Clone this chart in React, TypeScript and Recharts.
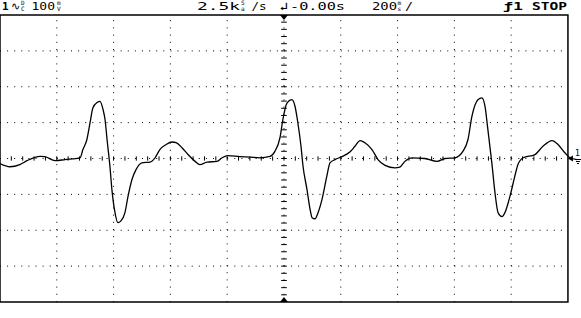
import { Line, LineChart, ReferenceArea, ReferenceDot, ReferenceLine, XAxis, YAxis } from "recharts";

// time in ms (200 ms/div, trigger at 0), trace in mV (100 mV/div)
const timeMs = [
  -1000, -965, -930, -905, -859, -842, -806, -771, -718, -708, -694, -683, -673, -658, -648, -637, -630, -623, -613,
  -606, -595, -585, -574, -560, -549, -535, -521, -500, -472, -454, -437, -415, -394, -380, -359, -338, -313, -296,
  -271, -236, -218, -197, -155, -120, -85, -49, -32, -14, -4, 11, 28, 39, 49, 60, 67, 81, 92, 99, 109, 120, 134, 151,
  162, 180, 204, 232, 250, 268, 285, 310, 331, 356, 391, 408, 426, 451, 496, 539, 567, 602, 630, 648, 662, 683, 697,
  708, 718, 732, 743, 754, 768, 778, 796, 813, 824, 842, 884, 912, 944, 965, 989, 1007, 1032,
];
const traceMv = [
  -14, -23, -17, -6, 6, 5, -6, -3, 2, 25, 53, 99, 141, 156, 159, 136, 108, 53, -21, -86, -151, -179, -174, -151, -105,
  -58, -31, -12, -10, 2, 25, 39, 46, 44, 30, 11, -8, -17, -10, -8, 2, 8, 5, 4, 2, 6, 20, 58, 108, 155, 164, 145, 99,
  34, -21, -86, -142, -165, -168, -151, -114, -49, -12, -3, 5, 18, 34, 50, 44, 25, -3, -19, -26, -24, -8, 2, 0, -8, 0,
  2, 20, 53, 118, 164, 169, 145, 81, -12, -95, -151, -162, -151, -105, -49, -17, 2, 11, 34, 50, 39, 16, 2, -3,
];

const gridTimes = [-800, -600, -400, -200, 200, 400, 600, 800];
const gridVolts = [-300, -200, -100, 100, 200, 300];
const minorTimes = Array.from({ length: 49 }, (_, i) => -960 + i * 40);
const minorVolts = Array.from({ length: 39 }, (_, i) => -380 + i * 20);

const data = timeMs.map((t, i) => ({ t, v: traceMv[i] }));

const INK = "#000";
const FONT = "'DejaVu Sans Mono', monospace";

const trigTop = ({ cx, cy }: { cx: number; cy: number }) => (
  <path d={`M${cx - 4},${cy} L${cx + 4},${cy} L${cx},${cy + 5} Z`} fill={INK} />
);
const trigBottom = ({ cx, cy }: { cx: number; cy: number }) => (
  <path d={`M${cx - 4},${cy} L${cx + 4},${cy} L${cx},${cy - 5} Z`} fill={INK} />
);
const groundMark = ({ cx, cy }: { cx: number; cy: number }) => (
  <g>
    <path d={`M${cx},${cy} L${cx + 5},${cy - 3} L${cx + 5},${cy + 3} Z`} fill={INK} />
    <text x={cx + 7} y={cy - 3} fontSize={8} fontFamily={FONT}>1</text>
    <path d={`M${cx + 7},${cy + 1} h6 M${cx + 8},${cy + 3} h4 M${cx + 9},${cy + 5} h2`} stroke={INK} strokeWidth={1} />
  </g>
);

function Stack({ x, top, bottom }: { x: number; top: string; bottom: string }) {
  return (
    <>
      <text x={x} y={5} fontSize={6}>{top}</text>
      <text x={x} y={10.5} fontSize={6}>{bottom}</text>
    </>
  );
}

export default function App() {
  return (
    <div style={{ position: "absolute", left: 0, top: 0, width: 581, height: 318, background: "#fff" }}>
      <LineChart width={581} height={318} data={data} margin={{ top: 15, right: 0, bottom: 16, left: 0 }}>
        <XAxis dataKey="t" type="number" domain={[-1000, 1046]} hide />
        <YAxis type="number" domain={[-400, 400]} hide />
        {gridTimes.map((t) => (
          <ReferenceLine key={`gx${t}`} x={t} stroke={INK} strokeDasharray="1 6.2" />
        ))}
        {gridVolts.map((v) => (
          <ReferenceLine key={`gy${v}`} segment={[{ x: -1000, y: v }, { x: 1000, y: v }]} stroke={INK} strokeDasharray="1 6.1" />
        ))}
        <ReferenceLine segment={[{ x: -1000, y: 0 }, { x: 1000, y: 0 }]} stroke={INK} strokeDasharray="1 6.1" />
        <ReferenceLine x={0} stroke={INK} strokeDasharray="1 6.2" />
        {minorTimes.map((t) => (
          <ReferenceLine key={`mx${t}`} segment={[{ x: t, y: -6 }, { x: t, y: 6 }]} stroke={INK} />
        ))}
        {minorVolts.map((v) => (
          <ReferenceLine key={`my${v}`} segment={[{ x: -10, y: v }, { x: 10, y: v }]} stroke={INK} />
        ))}
        <ReferenceArea x1={-1000} x2={1000} y1={-400} y2={400} fill="none" stroke={INK} strokeWidth={1.5} />
        <ReferenceDot x={0} y={400} r={0} shape={trigTop} />
        <ReferenceDot x={0} y={-400} r={0} shape={trigBottom} />
        <ReferenceDot x={1000} y={0} r={0} shape={groundMark} />
        <Line dataKey="v" type="monotone" stroke={INK} strokeWidth={1.3} dot={false} isAnimationActive={false} />
      </LineChart>
      <svg
        width={581}
        height={14}
        style={{ position: "absolute", left: 0, top: 0, pointerEvents: "none" }}
        fontFamily={FONT}
        fontSize={11}
        fill={INK}
      >
        <text x={2} y={10} fontWeight="bold">1</text>
        <text x={11} y={10}>∿</text>
        <Stack x={21} top="D" bottom="C" />
        <text x={31.5} y={10} textLength={23.5} lengthAdjust="spacingAndGlyphs">100</text>
        <Stack x={57} top="m" bottom="V" />
        <text x={197} y={10} textLength={43} lengthAdjust="spacingAndGlyphs">2.5k</text>
        <Stack x={241} top="S" bottom="a" />
        <text x={251.5} y={10} textLength={15} lengthAdjust="spacingAndGlyphs">/s</text>
        <text x={279} y={10} textLength={9} lengthAdjust="spacingAndGlyphs">↲</text>
        <text x={290} y={10} textLength={55} lengthAdjust="spacingAndGlyphs">-0.00s</text>
        <text x={372} y={10} textLength={25} lengthAdjust="spacingAndGlyphs">200</text>
        <Stack x={397.5} top="m" bottom="s" />
        <text x={405} y={10} textLength={8} lengthAdjust="spacingAndGlyphs">/</text>
        <text x={503} y={10} fontWeight="bold" textLength={20} lengthAdjust="spacingAndGlyphs">ƒ1</text>
        <text x={532} y={10} fontWeight="bold" textLength={35} lengthAdjust="spacingAndGlyphs">STOP</text>
      </svg>
    </div>
  );
}
